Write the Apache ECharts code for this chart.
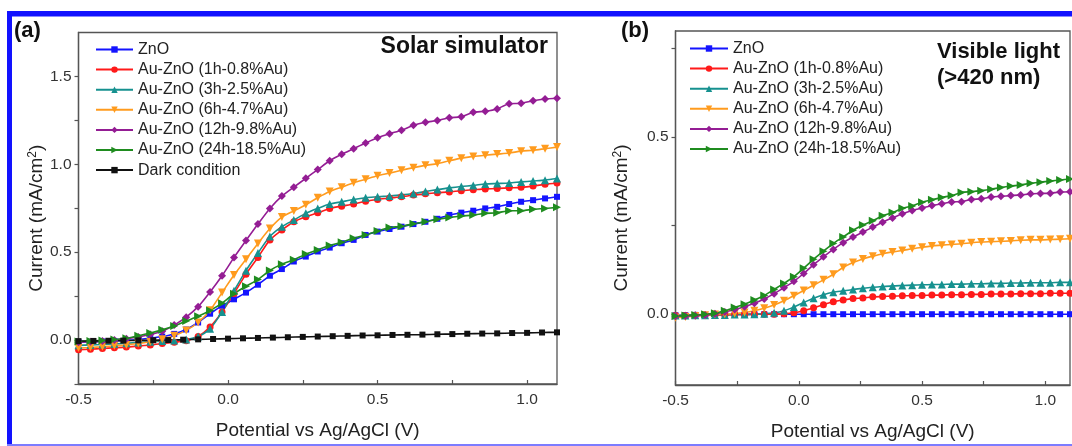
<!DOCTYPE html>
<html><head><meta charset="utf-8">
<script src="https://cdn.jsdelivr.net/npm/echarts@6/dist/echarts.min.js"></script>
<style>html,body{margin:0;padding:0;background:#fff}#c{width:1072px;height:446px}</style>
</head><body><div id="c"></div>
<script>
// ---------- DATA ----------
const potential = [-0.50,-0.46,-0.42,-0.38,-0.34,-0.30,-0.26,-0.22,-0.18,-0.14,-0.10,-0.06,-0.02,0.02,0.06,0.10,0.14,0.18,0.22,0.26,0.30,0.34,0.38,0.42,0.46,0.50,0.54,0.58,0.62,0.66,0.70,0.74,0.78,0.82,0.86,0.90,0.94,0.98,1.02,1.06,1.10];
const darkPotential = [-0.50,-0.45,-0.40,-0.35,-0.30,-0.25,-0.20,-0.15,-0.10,-0.05,0.00,0.05,0.10,0.15,0.20,0.25,0.30,0.35,0.40,0.45,0.50,0.55,0.60,0.65,0.70,0.75,0.80,0.85,0.90,0.95,1.00,1.05,1.10];

const seriesNames = ['ZnO','Au-ZnO (1h-0.8%Au)','Au-ZnO (3h-2.5%Au)','Au-ZnO (6h-4.7%Au)','Au-ZnO (12h-9.8%Au)','Au-ZnO (24h-18.5%Au)'];
const darkName = 'Dark condition';

// (a) Solar simulator
const solarZnO  = [-0.012,-0.010,-0.008,-0.005,-0.002,0.003,0.010,0.020,0.035,0.060,0.100,0.150,0.195,0.232,0.270,0.315,0.366,0.404,0.447,0.475,0.504,0.526,0.551,0.570,0.598,0.617,0.632,0.645,0.660,0.673,0.690,0.712,0.725,0.736,0.749,0.758,0.774,0.787,0.796,0.806,0.815];
const solar1h   = [-0.055,-0.052,-0.048,-0.044,-0.040,-0.034,-0.028,-0.020,-0.012,-0.004,0.020,0.075,0.160,0.265,0.375,0.470,0.570,0.626,0.673,0.702,0.724,0.749,0.762,0.774,0.790,0.800,0.808,0.815,0.825,0.832,0.838,0.843,0.850,0.855,0.860,0.862,0.866,0.869,0.876,0.886,0.894];
const solar3h   = [-0.030,-0.028,-0.025,-0.022,-0.018,-0.014,-0.010,-0.006,-0.002,0.003,0.020,0.065,0.160,0.280,0.395,0.495,0.589,0.645,0.683,0.721,0.749,0.774,0.787,0.800,0.810,0.815,0.820,0.826,0.834,0.845,0.856,0.866,0.874,0.880,0.888,0.891,0.894,0.900,0.905,0.910,0.919];
const solar6h   = [-0.045,-0.042,-0.038,-0.033,-0.028,-0.020,-0.010,0.005,0.025,0.055,0.100,0.170,0.270,0.370,0.460,0.550,0.635,0.700,0.735,0.770,0.810,0.845,0.870,0.895,0.915,0.935,0.950,0.966,0.981,0.994,1.004,1.020,1.035,1.045,1.052,1.058,1.064,1.075,1.080,1.089,1.098];
const solar12h  = [-0.012,-0.010,-0.006,0.000,0.008,0.018,0.032,0.050,0.085,0.130,0.190,0.274,0.366,0.470,0.566,0.660,0.749,0.819,0.870,0.920,0.970,1.020,1.057,1.089,1.121,1.151,1.174,1.194,1.222,1.239,1.249,1.265,1.270,1.296,1.302,1.315,1.345,1.347,1.362,1.372,1.376];
const solar24h  = [-0.008,-0.005,-0.002,0.003,0.010,0.025,0.040,0.058,0.080,0.108,0.135,0.168,0.210,0.264,0.306,0.344,0.396,0.432,0.457,0.489,0.513,0.538,0.557,0.580,0.598,0.620,0.640,0.647,0.662,0.673,0.687,0.698,0.706,0.711,0.721,0.724,0.736,0.736,0.744,0.749,0.755];
const solarDark = [-0.006,-0.005,-0.004,-0.003,-0.002,-0.001,0.000,0.002,0.004,0.006,0.008,0.010,0.012,0.014,0.016,0.018,0.020,0.022,0.024,0.026,0.027,0.029,0.030,0.031,0.033,0.034,0.036,0.037,0.038,0.040,0.041,0.043,0.044];

// (b) Visible light (>420 nm)
const visZnO = [-0.003,-0.003,-0.002,-0.002,-0.002,-0.001,-0.001,-0.001,0.000,0.000,0.000,0.000,0.000,0.000,0.000,0.000,0.000,0.000,0.000,0.000,0.000,0.000,0.000,0.000,0.000,0.000,0.000,0.000,0.000,0.000,0.000,0.000,0.000,0.000,0.000,0.000,0.000,0.000,0.000,0.000,0.000];
const vis1h  = [-0.004,-0.004,-0.003,-0.003,-0.002,-0.002,-0.001,-0.001,0.000,0.000,0.000,0.001,0.004,0.010,0.018,0.027,0.035,0.040,0.044,0.046,0.049,0.050,0.051,0.052,0.053,0.053,0.054,0.054,0.055,0.055,0.056,0.056,0.057,0.057,0.057,0.058,0.058,0.058,0.059,0.059,0.059];
const vis3h  = [-0.004,-0.004,-0.003,-0.003,-0.002,-0.002,-0.001,-0.001,0.000,0.001,0.004,0.010,0.020,0.033,0.045,0.055,0.062,0.066,0.070,0.073,0.076,0.078,0.080,0.081,0.082,0.083,0.084,0.084,0.085,0.085,0.086,0.086,0.087,0.087,0.088,0.088,0.089,0.089,0.089,0.090,0.090];
const vis6h  = [-0.010,-0.008,-0.005,-0.003,-0.001,0.000,0.002,0.005,0.010,0.017,0.026,0.038,0.052,0.067,0.082,0.097,0.113,0.132,0.146,0.156,0.164,0.171,0.176,0.180,0.185,0.189,0.193,0.195,0.197,0.199,0.202,0.204,0.205,0.206,0.207,0.209,0.210,0.210,0.211,0.212,0.213];
const vis12h = [-0.006,-0.005,-0.004,-0.002,0.001,0.006,0.013,0.021,0.031,0.043,0.058,0.075,0.093,0.115,0.140,0.162,0.183,0.202,0.218,0.232,0.246,0.260,0.272,0.284,0.293,0.300,0.307,0.312,0.317,0.318,0.324,0.326,0.331,0.333,0.335,0.337,0.340,0.341,0.342,0.345,0.346];
const vis24h = [-0.005,-0.004,-0.002,0.000,0.003,0.010,0.019,0.028,0.040,0.053,0.070,0.087,0.106,0.130,0.155,0.178,0.200,0.218,0.237,0.252,0.264,0.278,0.287,0.299,0.306,0.316,0.323,0.330,0.335,0.344,0.346,0.349,0.353,0.358,0.362,0.365,0.370,0.373,0.376,0.379,0.382];

const xLabelValues = [-0.5, 0.0, 0.5, 1.0];
const xTickValues = [-0.5,-0.25,0,0.25,0.5,0.75,1.0];
const yLabelValuesA = [0.0, 0.5, 1.0, 1.5];
const yTickValuesA = [-0.25,0,0.25,0.5,0.75,1.0,1.25,1.5];
const yLabelValuesB = [0.0, 0.5];
const yTickValuesB = [0,0.25,0.5,0.75];

// ---------- STYLE ----------
const FONT = '"Liberation Sans", Arial, sans-serif';
const colors = ['#1414ff','#ff1a1a','#16918f','#ff9b1e','#941d94','#1f8c1f'];
const symbols = ['rect','circle','triangle','path://M0,0L10,0L5,9z','diamond','path://M0,0L9,5L0,10z'];
const symSizes = [6,7,8,8,8,8];
const AX = '#555';

function mk(name, vals, xs, idx, color, symbol, size){
  return {
    name, type:'line', xAxisIndex: idx, yAxisIndex: idx,
    data: xs.map((v,i)=>[v, vals[i]]),
    symbol, symbolSize: size, showSymbol: true, smooth: 0.25,
    lineStyle:{color, width:1.6}, itemStyle:{color},
    animation:false, z: 3
  };
}
const solarSets = [solarZnO, solar1h, solar3h, solar6h, solar12h, solar24h];
const visSets = [visZnO, vis1h, vis3h, vis6h, vis12h, vis24h];
const series = [];
solarSets.forEach((s,i)=>series.push(mk(seriesNames[i], s, potential, 0, colors[i], symbols[i], symSizes[i])));
series.push(mk(darkName, solarDark, darkPotential, 0, '#111', 'rect', 6));
visSets.forEach((s,i)=>series.push(mk(seriesNames[i], s, potential, 1, colors[i], symbols[i], symSizes[i])));

function xAx(gi){
  return {
    type:'value', gridIndex: gi, min:-0.5, max:1.1,
    name:'Potential vs Ag/AgCl (V)', nameLocation:'middle', nameGap:37,
    nameTextStyle:{fontFamily:FONT, fontSize:19, color:'#222'},
    axisLine:{show:true, onZero:false, lineStyle:{color:AX, width:1.3}},
    axisTick:{show:true, inside:true, length:4, lineStyle:{color:AX, width:1.2}, customValues:xTickValues},
    axisLabel:{fontFamily:FONT, fontSize:15.5, color:'#333', margin:8, customValues:xLabelValues, formatter:v=>v.toFixed(1)},
    splitLine:{show:false}
  };
}
function yAx(gi, min, max, labels, ticks, gap){
  return {
    type:'value', gridIndex: gi, min, max,
    name:'Current (mA/cm{sup|2})', nameLocation:'middle', nameGap:gap, nameRotate:90,
    nameTextStyle:{fontFamily:FONT, fontSize:19, color:'#222', padding:[0,20,0,0],
      rich:{sup:{fontFamily:FONT, fontSize:12, verticalAlign:'top', padding:[0,0,8,0], color:'#222'}}},
    axisLine:{show:true, onZero:false, lineStyle:{color:AX, width:1.3}},
    axisTick:{show:true, inside:false, length:4, lineStyle:{color:AX, width:1.2}, customValues:ticks},
    axisLabel:{fontFamily:FONT, fontSize:15.5, color:'#333', margin:7, customValues:labels, formatter:v=>v.toFixed(1)},
    splitLine:{show:false}
  };
}
function legend(left, top, names, w){
  return {
    data: names, orient:'vertical', left, top, itemWidth:w, itemHeight:8, itemGap:4.1,
    textStyle:{fontFamily:FONT, fontSize:16, color:'#222', lineHeight:14},
    selectedMode:false, padding:0
  };
}

const option = {
  backgroundColor:'#fff',
  animation:false,
  grid:[
    {left:78.5, top:32.5, width:478.5, height:351.5, show:true, borderColor:AX, borderWidth:1.3, backgroundColor:'transparent'},
    {left:675.5, top:31, width:394.5, height:355.7, show:true, borderColor:AX, borderWidth:1.3, backgroundColor:'transparent'}
  ],
  xAxis:[xAx(0), xAx(1)],
  yAxis:[yAx(0,-0.25,1.75,yLabelValuesA,yTickValuesA,31), yAx(1,-0.2,0.8,yLabelValuesB,yTickValuesB,44)],
  legend:[legend(95, 41.5, seriesNames.concat([darkName]), 37), legend(689, 40.5, seriesNames, 38)],
  series,
  graphic:[
    {type:'rect', shape:{x:7, y:11, width:1065, height:5.5}, style:{fill:'#1212ff'}, z:10},
    {type:'rect', shape:{x:7, y:11, width:5, height:435}, style:{fill:'#1212ff'}, z:10},
    {type:'rect', shape:{x:7, y:444, width:1065, height:2}, style:{fill:'#7c7cff'}, z:10},
    {type:'text', left:14, top:20, style:{text:'(a)', font:'bold 22px '+FONT, fill:'#111'}},
    {type:'text', left:621, top:20, style:{text:'(b)', font:'bold 22px '+FONT, fill:'#111'}},
    {type:'text', right:524, top:35, style:{text:'Solar simulator', font:'bold 23px '+FONT, fill:'#111'}},
    {type:'text', left:937, top:39, style:{text:'Visible light\n(>420 nm)', font:'bold 22px '+FONT, fill:'#111', lineHeight:26}}
  ]
};
const chart = echarts.init(document.getElementById('c'), null, {renderer:'canvas'});
chart.setOption(option);
</script></body></html>
